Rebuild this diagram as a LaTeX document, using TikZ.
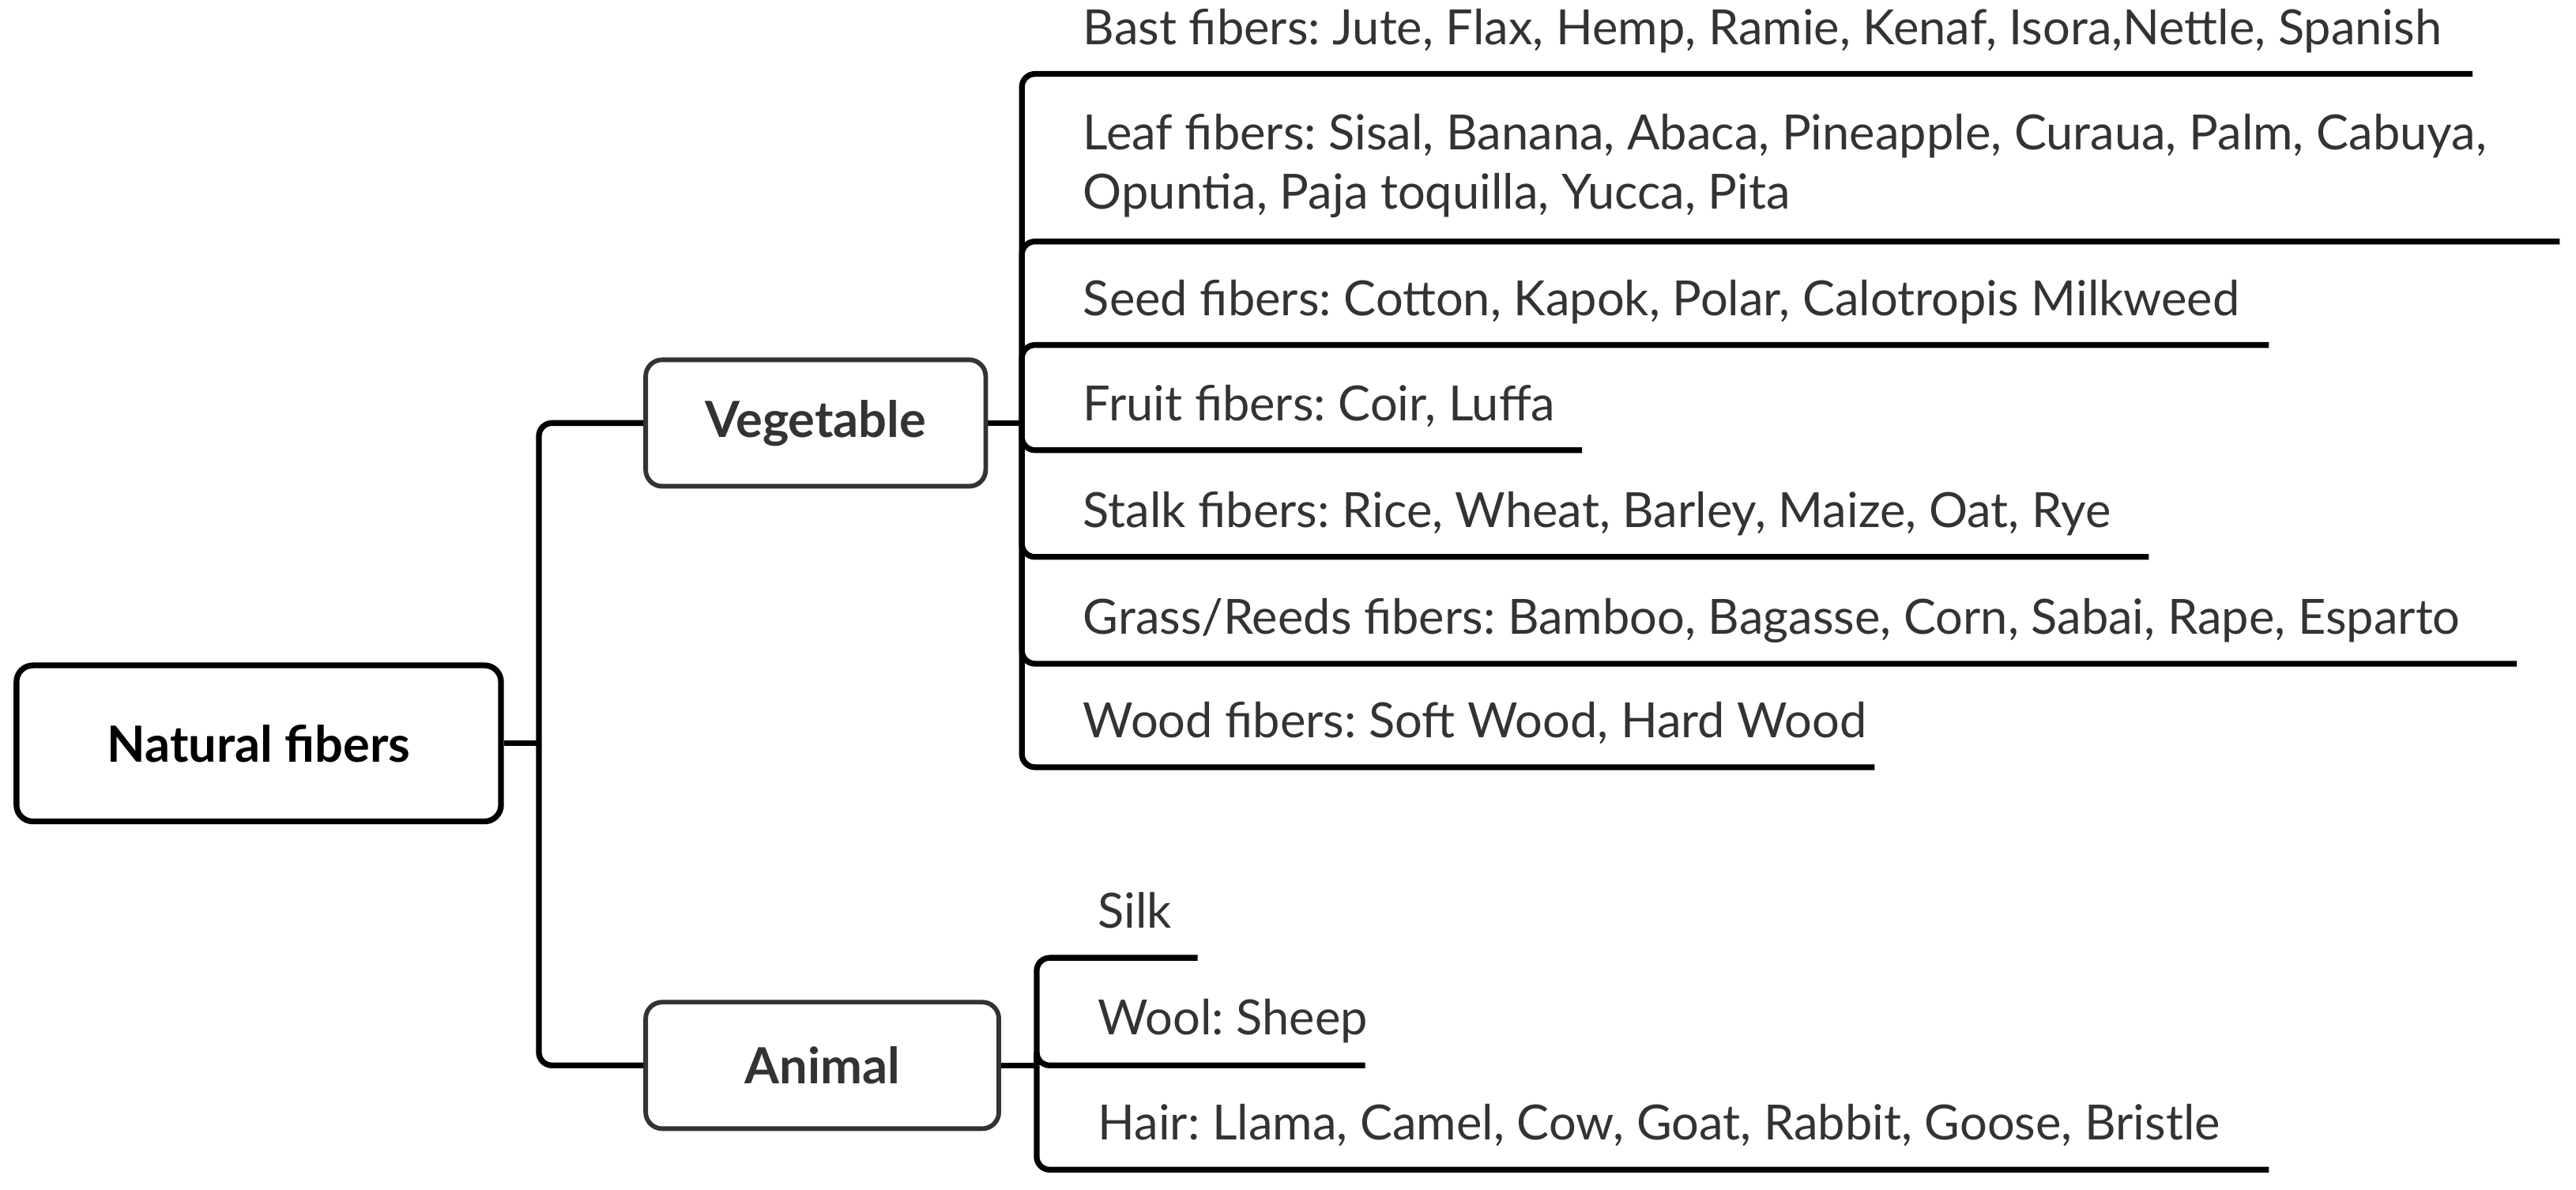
\documentclass[tikz,border=0pt]{standalone}
\usepackage{fontspec}
\setmainfont{Lato}
\usetikzlibrary{positioning}
\definecolor{ink}{HTML}{333333}
\frenchspacing

\begin{document}
\begin{tikzpicture}[x=0.02cm,y=-0.02cm,
  every node/.style={font=\fontsize{16.8}{20.5}\selectfont,text=ink},
  box/.style={draw=ink,line width=1.6pt,rounded corners=0.2cm,minimum height=1.54cm,font=\fontsize{17.3}{20}\selectfont\bfseries},
  item/.style={anchor=base west,inner sep=0pt,align=left},
  br/.style={line width=2pt,rounded corners=0.16cm}]
 \useasboundingbox (0,0) rectangle (1568,724);
 \node[box,draw=black,text=black,line width=2pt,minimum width=5.9cm,minimum height=1.9cm] (root) at (157.5,452.5) {Natural fibers};
 \node[box,minimum width=4.14cm] (veg) at (496.5,257.5) {Vegetable};
 \node[box,minimum width=4.3cm] (ani) at (500.5,648.5) {Animal};
 \coordinate (rj) at (328,452.5);
 \coordinate (vj) at (622,257.5);
 \coordinate (aj) at (631,648.5);
 \node[item] (bast)  at (659,27)  {Bast fibers: Jute, Flax, Hemp, Ramie, Kenaf, Isora,Nettle, Spanish};
 \node[item] (leaf)  at (659,127) {Leaf fibers: Sisal, Banana, Abaca, Pineapple, Curaua, Palm, Cabuya,\\Opuntia, Paja toquilla, Yucca, Pita};
 \node[item] (seed)  at (659,192) {Seed fibers: Cotton, Kapok, Polar, Calotropis Milkweed};
 \node[item] (fruit) at (659,256) {Fruit fibers: Coir, Luffa};
 \node[item] (stalk) at (659,321) {Stalk fibers: Rice, Wheat, Barley, Maize, Oat, Rye};
 \node[item] (grass) at (659,386) {Grass/Reeds fibers: Bamboo, Bagasse, Corn, Sabai, Rape, Esparto};
 \node[item] (wood)  at (659,449) {Wood fibers: Soft Wood, Hard Wood};
 \node[item] (silk)  at (668,565) {Silk};
 \node[item] (wool)  at (668,630) {Wool: Sheep};
 \node[item] (hair)  at (668,694) {Hair: Llama, Camel, Cow, Goat, Rabbit, Goose, Bristle};
 \coordinate (bast-e)  at (1505,45);
 \coordinate (leaf-e)  at (1558,147);
 \coordinate (seed-e)  at (1381,210);
 \coordinate (fruit-e) at (963,274);
 \coordinate (stalk-e) at (1308,339);
 \coordinate (grass-e) at (1532,404);
 \coordinate (wood-e)  at (1141,467);
 \coordinate (silk-e)  at (729,583);
 \coordinate (wool-e)  at (831,648.5);
 \coordinate (hair-e)  at (1381,712);
 \draw[br] (root.east) -- (rj);
 \draw[br] (veg.east) -- (vj);
 \draw[br] (ani.east) -- (aj);
 \foreach \b in {veg,ani} \draw[br] (rj) |- (\b.west);
 \foreach \b in {bast,leaf,seed,fruit,stalk,grass,wood} \draw[br] (vj) |- (\b-e);
 \foreach \b in {silk,wool,hair} \draw[br] (aj) |- (\b-e);
\end{tikzpicture}
\end{document}
